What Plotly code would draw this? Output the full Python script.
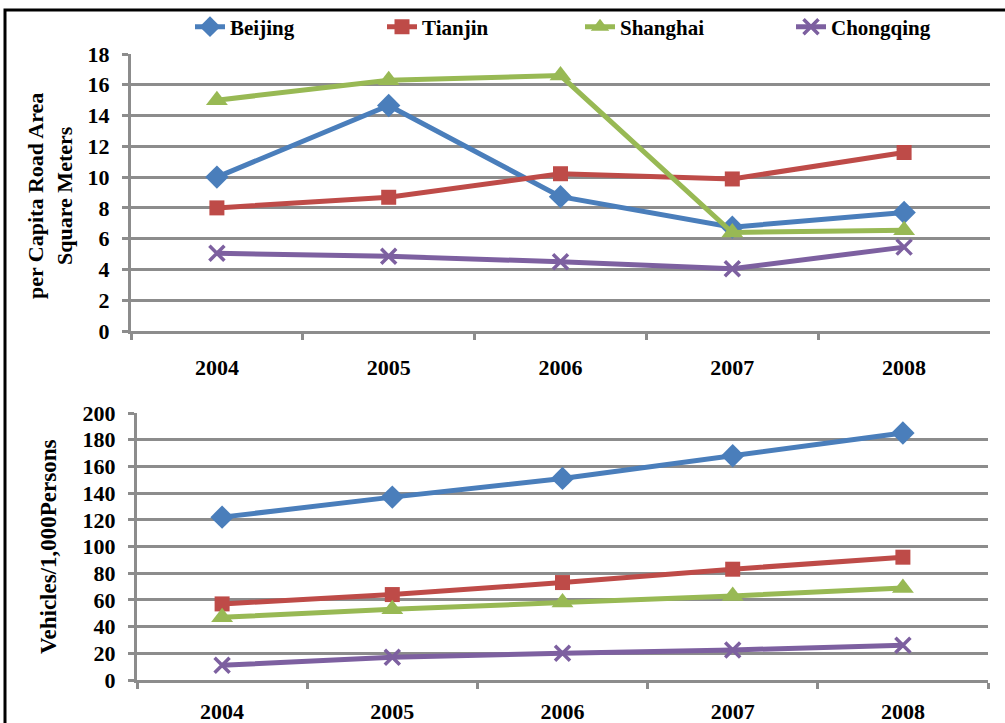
import plotly.graph_objects as go

W, H = 1005, 723

years = ["2004", "2005", "2006", "2007", "2008"]

# per capita road area (square meters)
road_beijing = [10.0, 14.65, 8.73, 6.75, 7.7]
road_tianjin = [8.0, 8.69, 10.22, 9.88, 11.6]
road_shanghai = [15.0, 16.3, 16.6, 6.4, 6.55]
road_chongqing = [5.05, 4.85, 4.5, 4.05, 5.45]

# vehicles per 1,000 persons
veh_beijing = [122, 137, 151, 168, 185]
veh_tianjin = [57, 64, 73, 83, 92]
veh_shanghai = [47, 53, 58, 63, 69]
veh_chongqing = [11, 17, 20, 22.5, 26]

names = ["Beijing", "Tianjin", "Shanghai", "Chongqing"]
colors = ["#4A7EBB", "#BE4B48", "#98B954", "#7D60A0"]
symbols = ["diamond", "square", "triangle-up", "x-thin"]
msizes = [18, 15, 19, 15]
legend_ids = ["legend", "legend2", "legend3", "legend4"]
legend_x = [190, 382, 580, 791]

FONT = '"Liberation Serif", "Times New Roman", serif'
GRID = "#8C8C8C"


def px_x(p):
    return p / W


def px_y(p):
    return 1 - p / H


fig = go.Figure()

top_series = [road_beijing, road_tianjin, road_shanghai, road_chongqing]
bot_series = [veh_beijing, veh_tianjin, veh_shanghai, veh_chongqing]


def make_marker(i):
    m = dict(symbol=symbols[i], size=msizes[i], color=colors[i])
    if symbols[i] == "x-thin":
        m["line"] = dict(color=colors[i], width=3.5)
    return m


for i, name in enumerate(names):
    fig.add_trace(go.Scatter(
        x=years, y=top_series[i], name=name, mode="lines+markers",
        line=dict(color=colors[i], width=5), marker=make_marker(i),
        xaxis="x", yaxis="y", showlegend=True, legend=legend_ids[i],
    ))
for i, name in enumerate(names):
    fig.add_trace(go.Scatter(
        x=years, y=bot_series[i], name=name, mode="lines+markers",
        line=dict(color=colors[i], width=5), marker=make_marker(i),
        xaxis="x2", yaxis="y2", showlegend=False,
    ))

tickfont = dict(family=FONT, size=22, color="#000000", weight="bold")

axis_common = dict(
    showgrid=False, zeroline=False, showline=True, linecolor=GRID, linewidth=3,
    ticks="outside", tickcolor=GRID, tickwidth=3, ticklen=6,
    tickfont=tickfont, fixedrange=True, automargin=False,
)
cat_range = [-0.5, len(years) - 0.5]

layout = dict(
    width=W, height=H,
    margin=dict(l=0, r=0, t=0, b=0, autoexpand=False),
    paper_bgcolor="white", plot_bgcolor="white",
    font=dict(family=FONT, color="#000000", size=22, weight="bold"),
    xaxis=dict(axis_common, type="category", tickson="boundaries", range=cat_range,
               domain=[px_x(131), px_x(990)], anchor="y",
               ticklabelstandoff=15),
    yaxis=dict(axis_common, range=[0, 18], dtick=2, showgrid=True,
               gridcolor=GRID, gridwidth=3, ticklabelstandoff=8,
               domain=[px_y(331), px_y(54)], anchor="x"),
    xaxis2=dict(axis_common, type="category", tickson="boundaries", range=cat_range,
                domain=[px_x(137), px_x(988)], anchor="y2",
                ticklabelstandoff=10),
    yaxis2=dict(axis_common, range=[0, 200], dtick=20, showgrid=True,
                gridcolor=GRID, gridwidth=3, ticklabelstandoff=8,
                domain=[px_y(680), px_y(413)], anchor="x2"),
    showlegend=True,
)
for lid, lx in zip(legend_ids, legend_x):
    layout[lid] = dict(
        orientation="h", x=px_x(lx), y=px_y(27), xanchor="left", yanchor="middle",
        font=dict(family=FONT, size=21, color="#000000", weight="bold"),
        bgcolor="rgba(0,0,0,0)", itemsizing="trace",
    )
fig.update_layout(**layout)

# y-axis titles
fig.add_annotation(
    text="per Capita Road Area<br>Square Meters", textangle=-90,
    x=px_x(50), y=px_y(196), xref="paper", yref="paper",
    xanchor="center", yanchor="middle",
    showarrow=False, font=dict(family=FONT, size=22, weight="bold"), align="center",
)
fig.add_annotation(
    text="Vehicles/1,000Persons", textangle=-90,
    x=px_x(48), y=px_y(547), xref="paper", yref="paper",
    xanchor="center", yanchor="middle",
    showarrow=False, font=dict(family=FONT, size=23, weight="bold"),
)

# outer frame
fig.add_shape(
    type="rect", xref="paper", yref="paper",
    x0=px_x(5), x1=1.05, y0=-0.05, y1=px_y(10),
    line=dict(color="#000000", width=3), fillcolor="rgba(0,0,0,0)",
)

fig.write_html("out.html")
